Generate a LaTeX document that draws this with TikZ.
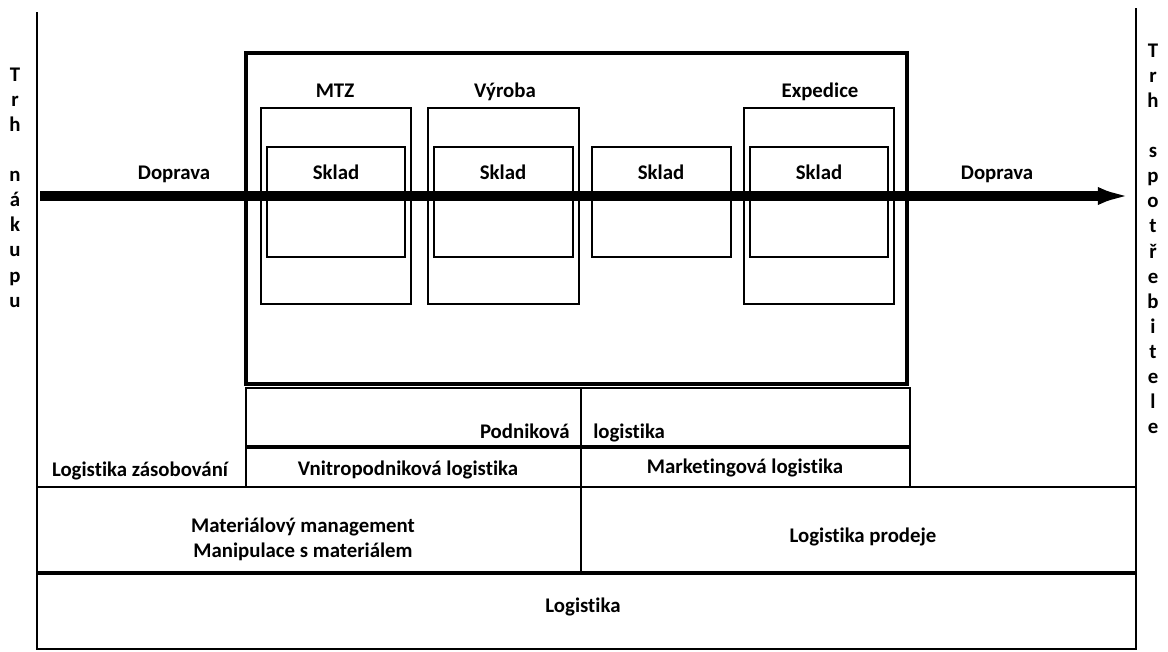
\documentclass[tikz,border=0pt]{standalone}
\usepackage{fontspec}
\setmainfont{Carlito}[Ligatures={NoCommon}]
\usetikzlibrary{arrows.meta}

\begin{document}
\begin{tikzpicture}[x=0.025cm,y=-0.025cm]
  \useasboundingbox (0,0) rectangle (1168,651);

  % Define styles for frames, rules, labels and the flow arrow
  \tikzset{
    myframe/.style={draw, line width=2.8pt, black},
    mybox/.style={draw, line width=2pt, black},
    myrule/.style={line width=1.5pt, black},
    mythick/.style={line width=2.4pt, black},
    mylabel/.style={font=\bfseries\fontsize{14.8}{17.8}\selectfont, inner sep=0pt},
    myflow/.style={line width=7.1pt, black, -{Latex[length=25pt,width=12.5pt]}}
  }

  % Market borders on both sides
  \draw[myrule] (37,12) -- (37,650);
  \draw[myrule] (1136,8) -- (1136,650);
  \node[mylabel, align=center, anchor=north] (nakup) at (15,68)
    {T\\r\\h\\[17.8pt]n\\á\\k\\u\\p\\u};
  \node[mylabel, align=center, anchor=north] (spotrebitel) at (1153,44)
    {T\\r\\h\\[17.8pt]s\\p\\o\\t\\ř\\e\\b\\i\\t\\e\\l\\e};

  % Company frame
  \draw[myframe] (246,53) rectangle (907,384);

  % Departments with their warehouses
  \draw[mybox] (261,108) rectangle (411,304);
  \draw[mybox] (428,108) rectangle (579,304);
  \draw[mybox] (744,108) rectangle (894,304);
  \draw[mybox] (267,147) rectangle (405,257);
  \draw[mybox] (434,147) rectangle (573,257);
  \draw[mybox] (592,147) rectangle (731,257);
  \draw[mybox] (750,147) rectangle (888,257);

  \node[mylabel, anchor=base] (mtz) at (335,97) {MTZ};
  \node[mylabel, anchor=base] (vyroba) at (505,97) {Výroba};
  \node[mylabel, anchor=base] (expedice) at (820,97) {Expedice};
  \node[mylabel, anchor=base] (sklad1) at (336,179) {Sklad};
  \node[mylabel, anchor=base] (sklad2) at (503,179) {Sklad};
  \node[mylabel, anchor=base] (sklad3) at (661,179) {Sklad};
  \node[mylabel, anchor=base] (sklad4) at (819,179) {Sklad};
  \node[mylabel, anchor=base] (doprava1) at (174,179) {Doprava};
  \node[mylabel, anchor=base] (doprava2) at (997,179) {Doprava};

  % Material flow through the company
  \coordinate (flowstart) at (40,196);
  \coordinate (flowend) at (1133,196);
  \draw[myflow] (flowstart) -- (flowend);

  % Layers of logistics below
  \draw[myrule] (246,388) rectangle (910,487);
  \draw[mythick] (246,447) -- (910,447);
  \draw[myrule] (581,388) -- (581,573);
  \draw[myrule] (37,487) -- (1136,487);
  \draw[mythick] (37,573) -- (1136,573);
  \draw[myrule] (37,649) -- (1136,649);

  \node[mylabel, anchor=base east] (podnikova) at (570,438) {Podniková};
  \node[mylabel, anchor=base west] (podlog) at (593,438) {logistika};
  \node[mylabel, anchor=base] (zasob) at (140,476) {Logistika zásobování};
  \node[mylabel, anchor=base] (vnitro) at (408,475) {Vnitropodniková logistika};
  \node[mylabel, anchor=base] (marketing) at (745,473) {Marketingová logistika};
  \node[mylabel, align=center] (material) at (303,539)
    {Materiálový management\\Manipulace s materiálem};
  \node[mylabel, anchor=base] (prodej) at (863,542) {Logistika prodeje};
  \node[mylabel, anchor=base] (logistika) at (583,612) {Logistika};

\end{tikzpicture}
\end{document}
